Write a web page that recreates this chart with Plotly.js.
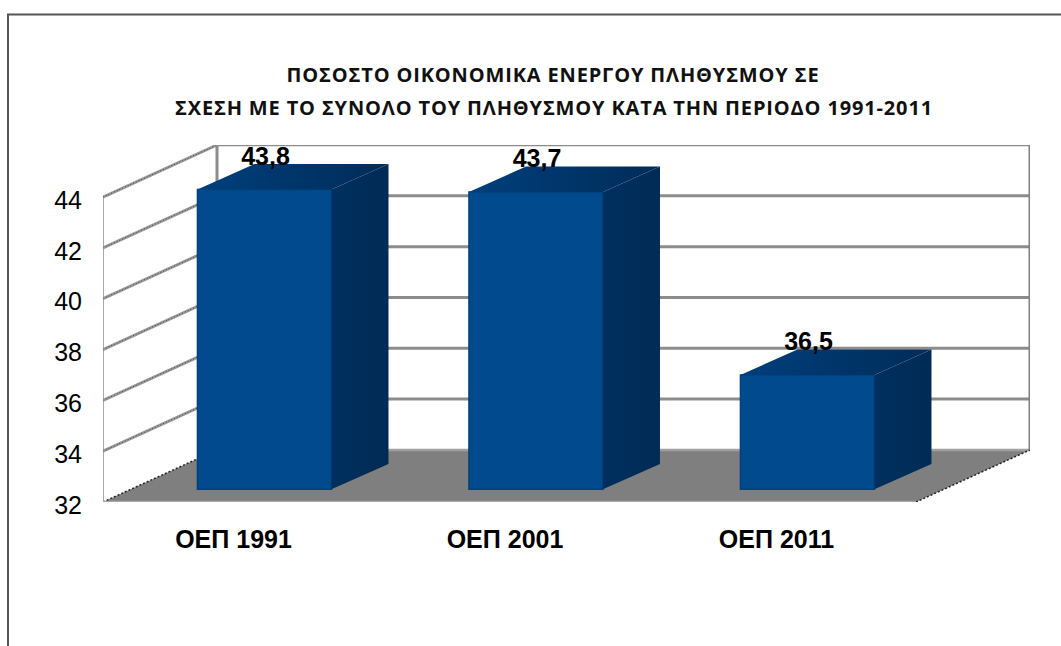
<!DOCTYPE html>
<html><head><meta charset="utf-8">
<script src="https://cdn.plot.ly/plotly-3.0.0.min.js"></script>
<style>html,body{margin:0;padding:0;background:#fff;overflow:hidden}
.gtitle,.annotation-text{letter-spacing:0.85px}
</style></head><body><div id="c" style="width:1061px;height:646px"></div>
<script>
const categories=['ΟΕΠ 1991','ΟΕΠ 2001','ΟΕΠ 2011'];
const values=[43.8,43.7,36.5];
const valueLabels=['43,8','43,7','36,5'];
const yTicks=[32,34,36,38,40,42,44];
const titleLine1='ΠΟΣΟΣΤΟ ΟΙΚΟΝΟΜΙΚΑ ΕΝΕΡΓΟΥ ΠΛΗΘΥΣΜΟΥ ΣΕ';
const titleLine2='ΣΧΕΣΗ ΜΕ ΤΟ ΣΥΝΟΛΟ ΤΟΥ ΠΛΗΘΥΣΜΟΥ ΚΑΤΑ ΤΗΝ ΠΕΡΙΟΔΟ 1991-2011';

// 3-D projection constants, in axis units
const xMin=-0.4807,xMax=2.9337,yMin=32,yMax=46.05;
const wallDx=0.4199,wallDy=2.05;   // depth of floor
const barDx=0.21,barDy=1.0;        // depth of a bar
const barLift=0.5,barShift=0.114,barW=0.4936;
const xs=categories.map((_,i)=>i);

const line=(x0,y0,x1,y1,color,width,dash)=>({type:'line',layer:'below',xref:'x',yref:'y',x0,y0,x1,y1,line:{color,width,dash:dash||'solid'}});
const shapes=[];
// floor
shapes.push({type:'path',layer:'below',xref:'x',yref:'y',
  path:`M${xMin},${yMin} L${xMin+wallDx},${yMin+wallDy} L${xMax},${yMin+wallDy} L${xMax-wallDx},${yMin} Z`,
  fillcolor:'#7f7f7f',line:{width:0}});
// back wall gridlines and side-wall gridlines
yTicks.forEach(v=>{
  if(v>yMin){
    shapes.push(line(xMin+wallDx,v+wallDy,xMax,v+wallDy,'#8c8c8c',v===44?2.5:3));
    shapes.push(line(xMin,v,xMin+wallDx,v+wallDy,'#9a9a9a',3));
    shapes.push(line(xMin,v,xMin+wallDx,v+wallDy,'#444444',1,'1px,2px'));
  }
});
shapes.push(line(xMin+wallDx,yMin+wallDy,xMax,yMin+wallDy,'#a0a0a0',2.5));
shapes.push(line(xMin,yMin,xMin+wallDx,yMin+wallDy,'#222222',1.5,'2px,2px'));
shapes.push(line(xMax-wallDx,yMin,xMax,yMin+wallDy,'#222222',1.5,'2px,2px'));
shapes.push(line(xMin+wallDx,yMin+wallDy,xMin+wallDx,44+wallDy,'#8c8c8c',3));
shapes.push(line(xMax,yMin+wallDy,xMax,44+wallDy,'#808080',3));
shapes.push(line(xMin,yMin,xMin,44,'#8c8c8c',1.5));
shapes.push(line(xMin,yMin,xMax-wallDx,yMin,'#a8a8a8',2.5));
// outer frame (paper coordinates)
const plotL=103,plotT=145,plotR=31,plotB=144;
const px=p=>(p-plotL)/(1061-plotL-plotR), py=p=>(646-plotB-p)/(646-plotT-plotB);
shapes.push({type:'line',layer:'above',xref:'paper',yref:'paper',x0:px(7),y0:py(14.5),x1:px(1061),y1:py(14.5),line:{color:'#555555',width:2}});
shapes.push({type:'line',layer:'above',xref:'paper',yref:'paper',x0:px(8),y0:py(14.5),x1:px(8),y1:py(646),line:{color:'#555555',width:2}});

const xl=xs.map(x=>x+barShift-barW/2), xr=xs.map(x=>x+barShift+barW/2);
const faceTrace=(X,Y,c0,c1)=>({type:'scatter',mode:'lines',x:X,y:Y,fill:'toself',
  fillgradient:{type:'horizontal',colorscale:[[0,c0],[1,c1]]},line:{width:0,color:c1},hoverinfo:'skip'});
const sideFaces=xs.map((_,i)=>faceTrace(
  [xr[i],xr[i],xr[i]+barDx,xr[i]+barDx,xr[i]],
  [yMin+barLift,values[i]+barLift,values[i]+barLift+barDy,yMin+barLift+barDy,yMin+barLift],
  '#00305f','#002b56'));
const topFaces=xs.map((_,i)=>faceTrace(
  [xl[i],xr[i],xr[i]+barDx,xl[i]+barDx,xl[i]],
  [values[i]+barLift,values[i]+barLift,values[i]+barLift+barDy,values[i]+barLift+barDy,values[i]+barLift],
  '#003f7c','#002c58'));

const traces=[
 {type:'bar',x:xs,y:values.map(v=>v-yMin),base:yMin+barLift,width:barW,offset:barShift-barW/2,
  marker:{color:'#004a8d',line:{color:'#01417e',width:1.5}},hoverinfo:'skip'},
 ...sideFaces,...topFaces,
 {type:'scatter',mode:'text',x:xs.map(x=>x+barShift+0.004),y:values.map(v=>v+barLift+1.22),text:valueLabels,textposition:'middle center',
  textfont:{family:'Liberation Sans',size:25,color:'#000',weight:700},cliponaxis:false,hoverinfo:'skip'}
];
const tFont={family:'"Open Sans"',size:20,color:'#111',weight:700};
const layout={
 width:1061,height:646,showlegend:false,paper_bgcolor:'#fff',plot_bgcolor:'#fff',
 margin:{l:plotL,r:plotR,t:plotT,b:plotB,pad:0},
 title:{text:titleLine1,font:tFont,xref:'container',yref:'container',x:553/1061,xanchor:'center',y:1-75/646,yanchor:'middle'},
 annotations:[{text:titleLine2,xref:'paper',yref:'paper',x:px(554),y:py(108),xanchor:'center',yanchor:'middle',showarrow:false,font:tFont}],
 xaxis:{range:[xMin,xMax],tickmode:'array',tickvals:xs,ticktext:categories.map(c=>'<b>'+c+'</b>'),showgrid:false,zeroline:false,showline:false,ticks:'',
   tickfont:{family:'Liberation Sans',size:25,color:'#000'},ticklabelstandoff:20},
 yaxis:{range:[yMin,yMax],tickmode:'array',tickvals:yTicks,ticktext:yTicks.map(String),showgrid:false,zeroline:false,showline:false,ticks:'',
   tickfont:{family:'Liberation Sans',size:25,color:'#000'},ticklabelstandoff:20,ticklabelshift:3},
 shapes
};
Plotly.newPlot('c',traces,layout,{displayModeBar:false,responsive:false});
</script></body></html>
